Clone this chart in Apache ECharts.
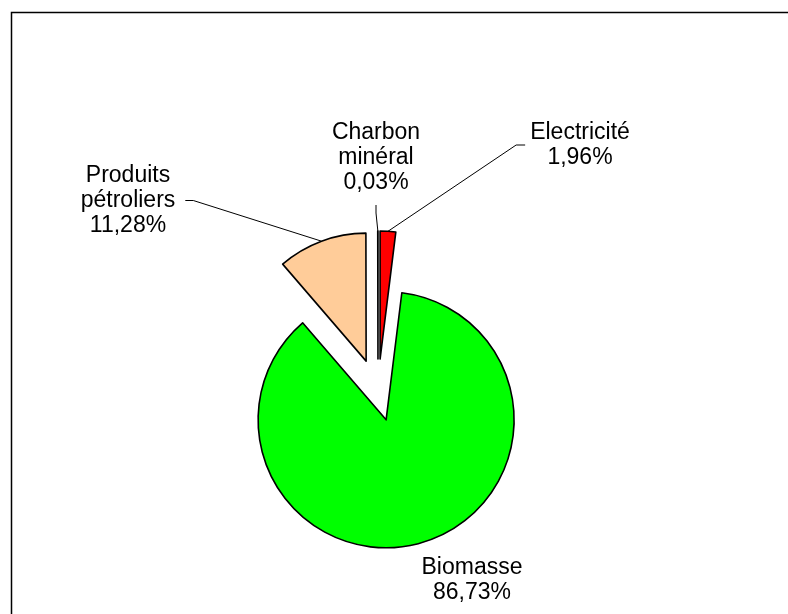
<!DOCTYPE html>
<html>
<head>
<meta charset="utf-8">
<script src="https://cdn.jsdelivr.net/npm/echarts@6/dist/echarts.min.js"></script>
<style>html,body{margin:0;padding:0;background:#fff;}#c{width:788px;height:614px;}</style>
</head>
<body>
<div id="c"></div>
<script>
// ---- data ----
const categories = ['Electricité', 'Biomasse', 'Produits pétroliers', 'Charbon minéral'];
const labelNames = ['Electricité', 'Biomasse', 'Produits\npétroliers', 'Charbon\nminéral'];
const values = [1.96, 86.73, 11.28, 0.03];
const colors = ['#ff0000', '#00ff00', '#ffcc99', '#000080'];

// ---- styling / layout (not data) ----
const baseCenter = [378, 393];
const explode = [34, 28, 34, 34];
const labelPos = [
  { x: 580, y: 120 },
  { x: 472, y: 555 },
  { x: 128, y: 163 },
  { x: 376, y: 110 }
];
const labelPad = [
  [0, 5, 0, 5],
  [0, 0, 0, 0],
  [0, 10, 0, 10],
  [10, 0, 10, 0]
];
const lineLen2 = [9, 0, 8, 8];
const FONT = 'Liberation Sans, Arial, sans-serif';

// exploded centre of each slice along its own mid-angle (pie starts at 12 o'clock, clockwise)
const total = values.reduce((a, b) => a + b, 0);
let acc = 0;
const centers = values.map((v, i) => {
  const mid = (acc + v / 2) / total * 2 * Math.PI;
  acc += v;
  return [baseCenter[0] + Math.sin(mid) * explode[i], baseCenter[1] - Math.cos(mid) * explode[i]];
});

const chart = echarts.init(document.getElementById('c'), null, { renderer: 'canvas' });

const series = categories.map((cat, k) => ({
  type: 'pie',
  center: centers[k],
  radius: [0, 128],
  startAngle: 90,
  clockwise: true,
  avoidLabelOverlap: false,
  animation: false,
  silent: true,
  emphasis: { disabled: true },
  data: categories.map((c, i) => {
    const visible = i === k;
    return {
      name: c,
      value: values[i],
      itemStyle: visible
        ? { color: colors[i], borderColor: '#000', borderWidth: 1.6 }
        : { color: 'rgba(0,0,0,0)', borderWidth: 0 },
      label: visible
        ? {
            show: true,
            position: 'outside',
            formatter: (p) => labelNames[p.dataIndex] + '\n' + p.percent.toFixed(2).replace('.', ',') + '%',
            color: '#000',
            fontFamily: FONT,
            fontSize: 23,
            lineHeight: 25,
            align: 'center',
            padding: labelPad[i]
          }
        : { show: false },
      labelLine: visible && i !== 1
        ? { show: true, length: 10, length2: lineLen2[i], lineStyle: { color: '#000', width: 1 } }
        : { show: false }
    };
  }),
  labelLayout: (params) => {
    if (params.dataIndex !== k) return {};
    return { x: labelPos[k].x, y: labelPos[k].y, align: 'center', verticalAlign: 'top' };
  }
}));

chart.setOption({
  backgroundColor: '#ffffff',
  animation: false,
  graphic: [
    {
      type: 'rect',
      silent: true,
      shape: { x: 11.5, y: 12.5, width: 900, height: 800 },
      style: { fill: 'none', stroke: '#000', lineWidth: 1.5 }
    }
  ],
  series: series
});
</script>
</body>
</html>
